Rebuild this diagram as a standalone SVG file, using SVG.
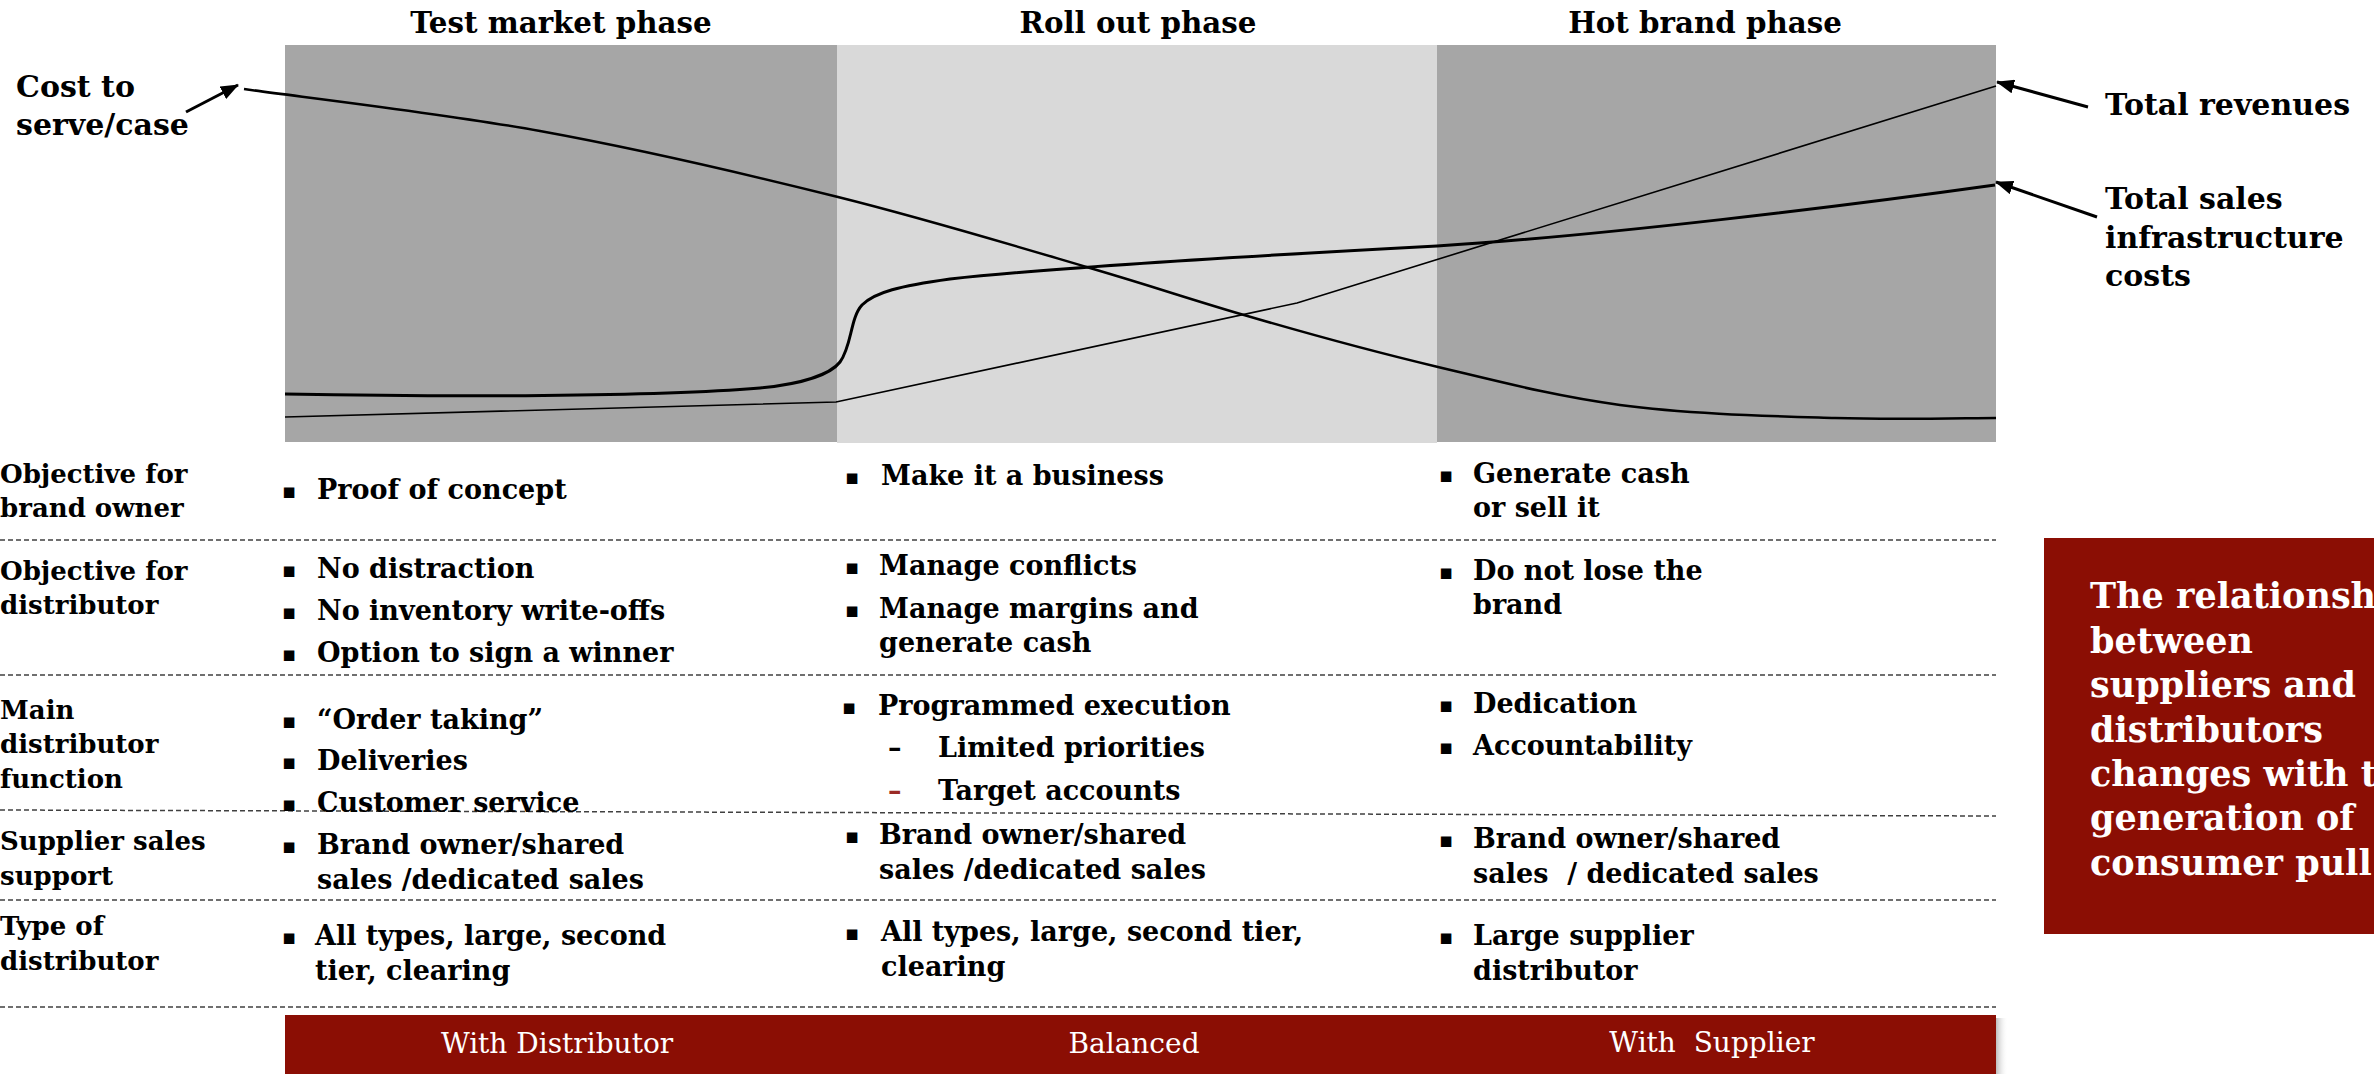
<svg xmlns="http://www.w3.org/2000/svg" width="2374" height="1074" viewBox="0 0 2374 1074">
<defs>
<style>
text{font-family:"DejaVu Serif","Liberation Serif",serif;font-weight:bold;fill:#000}
.title{font-size:29.3px;text-anchor:middle}
.lbl{font-size:30px}
.row{font-size:26px}
.cell{font-size:27px}
.bul{font-family:"DejaVu Sans",sans-serif;font-size:21px;font-weight:normal}
.bar{font-family:"DejaVu Serif","Liberation Serif",serif;font-weight:normal;font-size:28px;fill:#fff;text-anchor:middle}
.box{font-size:35px;fill:#fff}
.dash{stroke:#404040;stroke-width:1.5;stroke-dasharray:5 3;fill:none}
.curve{fill:none;stroke:#000;stroke-linejoin:round}
.arrow{stroke:#000;stroke-width:3;fill:none;marker-end:url(#ah)}
.pre{white-space:pre}
</style>
<marker id="ah" viewBox="0 0 18 14" markerWidth="18" markerHeight="14" refX="17" refY="7" markerUnits="userSpaceOnUse" orient="auto">
<path d="M0,0 L18,7 L0,14 z" fill="#000"/>
</marker>
<linearGradient id="shadow" x1="0" y1="0" x2="1" y2="0">
<stop offset="0" stop-color="#bdbdbd"/>
<stop offset="1" stop-color="#ffffff" stop-opacity="0"/>
</linearGradient>
</defs>
<rect width="2374" height="1074" fill="#fff"/>

<g id="phase-test-market">
<rect x="285" y="45" width="552" height="397" fill="#A6A6A6"/>
<text class="title" x="561" y="33">Test market phase</text>
</g>
<g id="phase-roll-out">
<rect x="837" y="45" width="600" height="398" fill="#D9D9D9"/>
<text class="title" x="1138" y="33">Roll out phase</text>
</g>
<g id="phase-hot-brand">
<rect x="1437" y="45" width="559" height="397" fill="#A6A6A6"/>
<text class="title" x="1705" y="33">Hot brand phase</text>
</g>

<g id="chart-lines">
<path id="cost-curve" class="curve" stroke-width="2.5" d="M244,89 C293,96 441,113 540,131 C639,149 746,174 838,197 C930,220 1022,248 1090,268 C1158,288 1186,298 1244,315 C1302,332 1375,352 1438,367 C1501,382 1554,396 1620,405 C1686,414 1772,416 1835,418 C1898,420 1969,418 1996,418"/>
<path id="sales-cost-curve" class="curve" stroke-width="3" d="M285,394 C450,397 650,397 760,388 C800,384 830,375 840,362 C852,346 850,318 862,305 C875,292 900,286 950,279 C1050,268 1250,256 1437,246 C1600,236 1845,206 1995,185"/>
<path id="revenue-line" class="curve" stroke-width="1.6" d="M285,417 L836,402 L1297,303 L1996,86"/>
</g>

<g id="label-cost">
<text class="lbl" x="16" y="97">Cost to</text>
<text class="lbl" x="16" y="135">serve/case</text>
</g>
<g id="label-revenues">
<text class="lbl" x="2105" y="115">Total revenues</text>
</g>
<g id="label-sales-costs">
<text class="lbl" x="2105" y="209">Total sales</text>
<text class="lbl" x="2105" y="248">infrastructure</text>
<text class="lbl" x="2105" y="286">costs</text>
</g>

<g id="connectors">
<line class="arrow" x1="186" y1="112" x2="238" y2="85"/>
<line class="arrow" x1="2088" y1="107" x2="1997" y2="82"/>
<line class="arrow" x1="2097" y1="217" x2="1996" y2="182"/>
</g>

<g id="grid-lines">
<line class="dash" x1="0" y1="540" x2="1996" y2="540"/>
<line class="dash" x1="0" y1="675" x2="1996" y2="675"/>
<line class="dash" x1="0" y1="810" x2="1996" y2="816"/>
<line class="dash" x1="0" y1="900" x2="1996" y2="900"/>
<line class="dash" x1="0" y1="1007" x2="1996" y2="1007"/>
</g>

<g id="row-labels">
<text class="row" x="0" y="483">Objective for</text>
<text class="row" x="0" y="517">brand owner</text>
<text class="row" x="0" y="580">Objective for</text>
<text class="row" x="0" y="614">distributor</text>
<text class="row" x="0" y="719">Main</text>
<text class="row" x="0" y="753">distributor</text>
<text class="row" x="0" y="788">function</text>
<text class="row" x="0" y="850">Supplier sales</text>
<text class="row" x="0" y="885">support</text>
<text class="row" x="0" y="935">Type of</text>
<text class="row" x="0" y="970">distributor</text>
</g>

<g id="col-test-market">
<text class="bul" x="282" y="498">▪</text><text class="cell" x="317" y="499">Proof of concept</text>
<text class="bul" x="282" y="577">▪</text><text class="cell" x="317" y="578">No distraction</text>
<text class="bul" x="282" y="619">▪</text><text class="cell" x="317" y="620">No inventory write-offs</text>
<text class="bul" x="282" y="661">▪</text><text class="cell" x="317" y="662">Option to sign a winner</text>
<text class="bul" x="282" y="728">▪</text><text class="cell" x="317" y="729">“Order taking”</text>
<text class="bul" x="282" y="769">▪</text><text class="cell" x="317" y="770">Deliveries</text>
<text class="bul" x="282" y="811">▪</text><text class="cell" x="317" y="812">Customer service</text>
<text class="bul" x="282" y="853">▪</text><text class="cell" x="317" y="854">Brand owner/shared</text>
<text class="cell" x="317" y="889">sales /dedicated sales</text>
<text class="bul" x="282" y="944">▪</text><text class="cell" x="315" y="945">All types, large, second</text>
<text class="cell" x="315" y="980">tier, clearing</text>
</g>

<g id="col-roll-out">
<text class="bul" x="845" y="484">▪</text><text class="cell" x="881" y="485">Make it a business</text>
<text class="bul" x="845" y="574">▪</text><text class="cell" x="879" y="575">Manage conflicts</text>
<text class="bul" x="845" y="617">▪</text><text class="cell" x="879" y="618">Manage margins and</text>
<text class="cell" x="879" y="652">generate cash</text>
<text class="bul" x="842" y="714">▪</text><text class="cell" x="878" y="715">Programmed execution</text>
<text class="cell" x="888" y="757">–</text><text class="cell" x="938" y="757">Limited priorities</text>
<text class="cell" x="888" y="800" style="fill:#9B2B25">–</text><text class="cell" x="938" y="800">Target accounts</text>
<text class="bul" x="845" y="843">▪</text><text class="cell" x="879" y="844">Brand owner/shared</text>
<text class="cell" x="879" y="879">sales /dedicated sales</text>
<text class="bul" x="845" y="940">▪</text><text class="cell" x="881" y="941">All types, large, second tier,</text>
<text class="cell" x="881" y="976">clearing</text>
</g>

<g id="col-hot-brand">
<text class="bul" x="1439" y="482">▪</text><text class="cell" x="1473" y="483">Generate cash</text>
<text class="cell" x="1473" y="517">or sell it</text>
<text class="bul" x="1439" y="579">▪</text><text class="cell" x="1473" y="580">Do not lose the</text>
<text class="cell" x="1473" y="614">brand</text>
<text class="bul" x="1439" y="712">▪</text><text class="cell" x="1473" y="713">Dedication</text>
<text class="bul" x="1439" y="754">▪</text><text class="cell" x="1473" y="755">Accountability</text>
<text class="bul" x="1439" y="847">▪</text><text class="cell" x="1473" y="848">Brand owner/shared</text>
<text class="cell pre" x="1473" y="883" xml:space="preserve">sales  / dedicated sales</text>
<text class="bul" x="1439" y="944">▪</text><text class="cell" x="1473" y="945">Large supplier</text>
<text class="cell" x="1473" y="980">distributor</text>
</g>

<g id="relationship-bar">
<rect x="1996" y="1018" width="12" height="56" fill="url(#shadow)"/>
<rect x="285" y="1015" width="1711" height="59" fill="#8B0E04"/>
<text class="bar" x="557" y="1053">With Distributor</text>
<text class="bar" x="1134" y="1053">Balanced</text>
<text class="bar pre" x="1712" y="1052" xml:space="preserve">With  Supplier</text>
</g>

<g id="summary-box">
<rect x="2044" y="538" width="330" height="396" fill="#8B0E04"/>
<text class="box" x="2090" y="608">The relationship</text>
<text class="box" x="2090" y="653">between</text>
<text class="box" x="2090" y="697">suppliers and</text>
<text class="box" x="2090" y="742">distributors</text>
<text class="box" x="2090" y="786">changes with the</text>
<text class="box" x="2090" y="830">generation of</text>
<text class="box" x="2090" y="875">consumer pull</text>
</g>
</svg>
